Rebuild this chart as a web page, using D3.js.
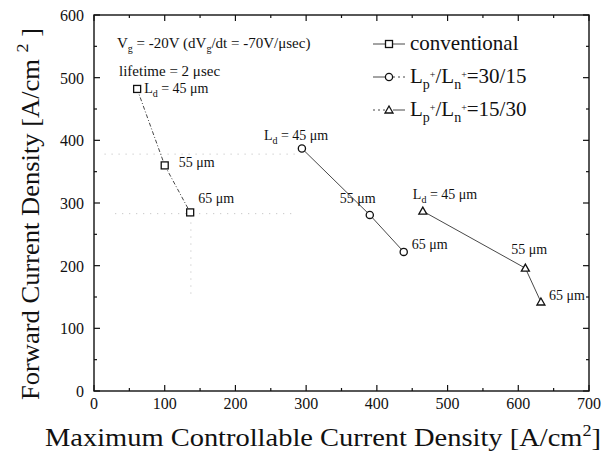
<!DOCTYPE html>
<html><head><meta charset="utf-8">
<script src="https://cdn.jsdelivr.net/npm/d3@7"></script>
<style>body{margin:0;background:#fff}svg{display:block}text{font-family:"Liberation Serif","Times New Roman",serif;fill:#111}</style>
</head><body><svg id="c" width="608" height="457"></svg>
<script>
const xTicks=[0,100,200,300,400,500,600,700];
const yTicks=[0,100,200,300,400,500,600];
const convX=[61,100,136], convY=[482,360,285];
const c3015X=[294,390,438], c3015Y=[387,281,222];
const c1530X=[465,610,632], c1530Y=[287,196,142];
const convLbl=["L_d = 45 μm","55 μm","65 μm"];
const c3015Lbl=["L_d = 45 μm","55 μm","65 μm"];
const c1530Lbl=["L_d = 45 μm","55 μm","65 μm"];
const legendNames=["conventional","L_p+/L_n+=30/15","L_p+/L_n+=15/30"];

const svg=d3.select("#c");
const L=94,R=589,T=15,B=391;
const x=d3.scaleLinear().domain([0,700]).range([L,R]);
const y=d3.scaleLinear().domain([0,600]).range([B,T]);

// faint guide dots (scan artifacts)
const g0=svg.append("g").attr("stroke","#bbb").attr("stroke-width",1).attr("stroke-dasharray","1,6");
g0.append("line").attr("x1",x(15)).attr("x2",x(290)).attr("y1",y(378)).attr("y2",y(378));
g0.append("line").attr("x1",x(30)).attr("x2",x(285)).attr("y1",y(283)).attr("y2",y(283));
g0.append("line").attr("x1",x(137)).attr("x2",x(137)).attr("y1",y(280)).attr("y2",y(150));

// axes frame
svg.append("rect").attr("x",L).attr("y",T).attr("width",R-L).attr("height",B-T).attr("fill","none").attr("stroke","#111").attr("stroke-width",1.4);
const minorX=d3.range(50,700,100), minorY=d3.range(50,600,100);
const ax=svg.append("g").attr("stroke","#111").attr("stroke-width",1.2);
xTicks.forEach(v=>{ax.append("line").attr("x1",x(v)).attr("x2",x(v)).attr("y1",B).attr("y2",B-6);ax.append("line").attr("x1",x(v)).attr("x2",x(v)).attr("y1",T).attr("y2",T+6);});
minorX.forEach(v=>{ax.append("line").attr("x1",x(v)).attr("x2",x(v)).attr("y1",B).attr("y2",B-3);ax.append("line").attr("x1",x(v)).attr("x2",x(v)).attr("y1",T).attr("y2",T+3);});
yTicks.forEach(v=>{ax.append("line").attr("x1",L).attr("x2",L+6).attr("y1",y(v)).attr("y2",y(v));ax.append("line").attr("x1",R).attr("x2",R-6).attr("y1",y(v)).attr("y2",y(v));});
minorY.forEach(v=>{ax.append("line").attr("x1",L).attr("x2",L+3).attr("y1",y(v)).attr("y2",y(v));ax.append("line").attr("x1",R).attr("x2",R-3).attr("y1",y(v)).attr("y2",y(v));});
svg.append("g").selectAll("text").data(xTicks).join("text").attr("x",d=>x(d)).attr("y",B+18).attr("text-anchor","middle").attr("font-size",16).text(d=>d);
svg.append("g").selectAll("text").data(yTicks).join("text").attr("x",L-10).attr("y",d=>y(d)+6).attr("text-anchor","end").attr("font-size",16).text(d=>d);

// axis titles
const xt=svg.append("text").attr("x",45).attr("y",446).attr("font-size",25)
  .attr("textLength",556).attr("lengthAdjust","spacingAndGlyphs");
xt.append("tspan").text("Maximum Controllable Current Density [A/cm");
xt.append("tspan").attr("dy",-10).attr("font-size",16).text("2");
xt.append("tspan").attr("dy",10).text("]");
const yt=svg.append("text").attr("transform",`translate(39,400) rotate(-90)`).attr("font-size",25)
  .attr("textLength",372).attr("lengthAdjust","spacingAndGlyphs");
yt.append("tspan").text("Forward Current Density [A/cm ");
yt.append("tspan").attr("dy",-11).attr("font-size",17).text("2");
yt.append("tspan").attr("dy",11).text(" ]");

// series
const line=d3.line().x(d=>x(d[0])).y(d=>y(d[1]));
function pts(X,Y){return X.map((v,i)=>[v,Y[i]]);}
const series=[
 {p:pts(convX,convY),sym:"sq",dash:"4,2,1,2",lbl:convLbl},
 {p:pts(c3015X,c3015Y),sym:"ci",dash:null,lbl:c3015Lbl},
 {p:pts(c1530X,c1530Y),sym:"tr",dash:null,lbl:c1530Lbl}];
function drawSym(g,sym,cx,cy){
 if(sym==="sq")g.append("rect").attr("x",cx-3.5).attr("y",cy-3.5).attr("width",7).attr("height",7).attr("fill","#fff").attr("stroke","#111").attr("stroke-width",1.3);
 else if(sym==="ci")g.append("circle").attr("cx",cx).attr("cy",cy).attr("r",3.6).attr("fill","#fff").attr("stroke","#111").attr("stroke-width",1.3);
 else g.append("path").attr("d",`M${cx},${cy-4}L${cx+4},${cy+3}L${cx-4},${cy+3}Z`).attr("fill","#fff").attr("stroke","#111").attr("stroke-width",1.3);
}
series.forEach(s=>{
 const p=svg.append("path").attr("d",line(s.p)).attr("fill","none").attr("stroke","#333").attr("stroke-width",0.9);
 if(s.dash)p.attr("stroke-dasharray",s.dash);
});
series.forEach(s=>s.p.forEach(d=>drawSym(svg,s.sym,x(d[0]),y(d[1]))));

// annotations
function ann(txt,px,py){
 const t=svg.append("text").attr("x",px).attr("y",py).attr("font-size",14);
 if(txt.startsWith("L_d")){
  t.append("tspan").text("L");
  t.append("tspan").attr("dy",4).attr("font-size",10).text("d");
  t.append("tspan").attr("dy",-4).text(txt.slice(3));
 } else t.text(txt);
}
const offs=[
 [[7,4],[14,2],[8,-9]],
 [[-38,-8],[-30,-12],[8,-3]],
 [[-10,-12],[-14,-14],[8,-2]]];
series.forEach((s,si)=>s.p.forEach((d,i)=>ann(s.lbl[i],x(d[0])+offs[si][i][0],y(d[1])+offs[si][i][1])));

// condition text
const vt=svg.append("text").attr("x",117).attr("y",48).attr("font-size",15);
vt.append("tspan").text("V");
vt.append("tspan").attr("dy",4).attr("font-size",10).text("g");
vt.append("tspan").attr("dy",-4).text(" = -20V (dV");
vt.append("tspan").attr("dy",4).attr("font-size",10).text("g");
vt.append("tspan").attr("dy",-4).text("/dt = -70V/μsec)");
svg.append("text").attr("x",119).attr("y",76).attr("font-size",15).text("lifetime = 2 μsec");

// legend
const lg=[{y:44,sym:"sq",d1:null,d2:null},{y:77,sym:"ci",d1:null,d2:"2,3"},{y:110,sym:"tr",d1:"2,3",d2:null}];
lg.forEach((l,i)=>{
 const a=svg.append("line").attr("x1",373).attr("x2",385).attr("y1",l.y).attr("y2",l.y).attr("stroke","#333").attr("stroke-width",0.9);
 if(l.d1)a.attr("stroke-dasharray",l.d1);
 const b=svg.append("line").attr("x1",393).attr("x2",405).attr("y1",l.y).attr("y2",l.y).attr("stroke","#333").attr("stroke-width",0.9);
 if(l.d2)b.attr("stroke-dasharray",l.d2);
 drawSym(svg,l.sym,389,l.y);
 const t=svg.append("text").attr("x",410).attr("y",l.y+6).attr("font-size",21);
 if(i===0)t.text(legendNames[0]);
 else{
  const parts=legendNames[i].match(/L_p\+\/L_n\+=(.*)/);
  t.append("tspan").text("L");
  t.append("tspan").attr("dy",6).attr("font-size",14).text("p");
  t.append("tspan").attr("dy",-11).attr("font-size",10).text("+");
  t.append("tspan").attr("dy",5).text("/L");
  t.append("tspan").attr("dy",6).attr("font-size",14).text("n");
  t.append("tspan").attr("dy",-11).attr("font-size",10).text("+");
  t.append("tspan").attr("dy",5).text("="+parts[1]);
 }
});
</script></body></html>
